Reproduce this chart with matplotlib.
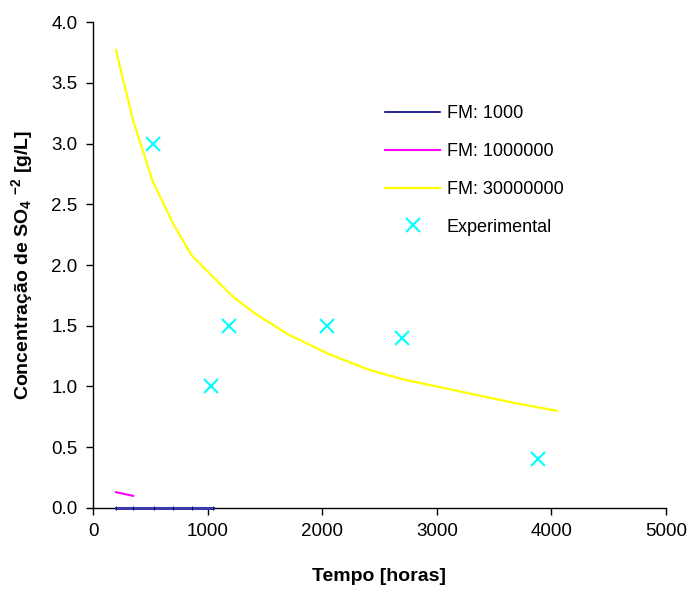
import numpy as np
import matplotlib.pyplot as plt
from matplotlib.ticker import FormatStrFormatter

plt.rcParams['font.family'] = ['Liberation Sans', 'DejaVu Sans']
plt.rcParams['mathtext.default'] = 'regular'

# FM: 1000 curve (stays at zero)
t_fm1k = [200, 350, 530, 700, 860, 1050]
c_fm1k = [0.0, 0.0, 0.0, 0.0, 0.0, 0.0]

# FM: 1000000 curve (short segment)
t_fm1m = [200, 350]
c_fm1m = [0.13, 0.10]

# FM: 30000000 curve
t_fm30m = [200, 350, 520, 700, 860, 1050, 1220, 1400, 1700, 2050, 2400, 2700, 3050, 3400, 3700, 4050]
c_fm30m = [3.77, 3.19, 2.69, 2.34, 2.08, 1.90, 1.74, 1.61, 1.43, 1.27, 1.14, 1.06, 0.99, 0.92, 0.86, 0.80]

# experimental points
t_exp = [525, 1030, 1190, 2040, 2700, 3880]
c_exp = [3.0, 1.0, 1.5, 1.5, 1.4, 0.4]

fig = plt.figure(figsize=(6.87, 5.96), dpi=100)
ax = fig.add_axes([0.1354, 0.1477, 0.8340, 0.8153])

ax.plot(t_fm1k, c_fm1k, color='#3a3aaa', lw=2.2, marker='|', ms=3, mew=0.6, mec='#000060',
        label='FM: 1000', clip_on=False, zorder=3)
ax.plot(t_fm1m, c_fm1m, color='#ff00ff', lw=1.5, label='FM: 1000000')
ax.plot(t_fm30m, c_fm30m, color='#ffff00', lw=1.6, label='FM: 30000000')
ax.plot(t_exp, c_exp, linestyle='none', marker='x', color='#00ffff', ms=10, mew=1.5,
        label='Experimental')

ax.set_xlim(0, 5000)
ax.set_ylim(0, 4.0)
ax.set_xticks(np.arange(0, 5001, 1000))
ax.set_yticks(np.arange(0, 4.01, 0.5))
ax.yaxis.set_major_formatter(FormatStrFormatter('%.1f'))

for s in ['top', 'right']:
    ax.spines[s].set_visible(False)
for s in ['left', 'bottom']:
    ax.spines[s].set_linewidth(1.0)
ax.tick_params(direction='out', length=5, width=1, labelsize=13.5, pad=6)

ax.set_xlabel('Tempo [horas]', fontsize=14, fontweight='bold', labelpad=20)
ax.set_ylabel('Concentração de SO$_{4}$ $^{-2}$ [g/L]', fontsize=14, fontweight='bold', labelpad=12)

leg = ax.legend(loc='upper left', bbox_to_anchor=(0.482, 0.862), frameon=False, fontsize=13,
                handlelength=3.0, labelspacing=1.15, handletextpad=0.4)
leg.legend_handles[0].set_marker('')
leg.legend_handles[0].set_color('#000080')
leg.legend_handles[0].set_linewidth(1.2)

fig.savefig('out.png', dpi=100)
